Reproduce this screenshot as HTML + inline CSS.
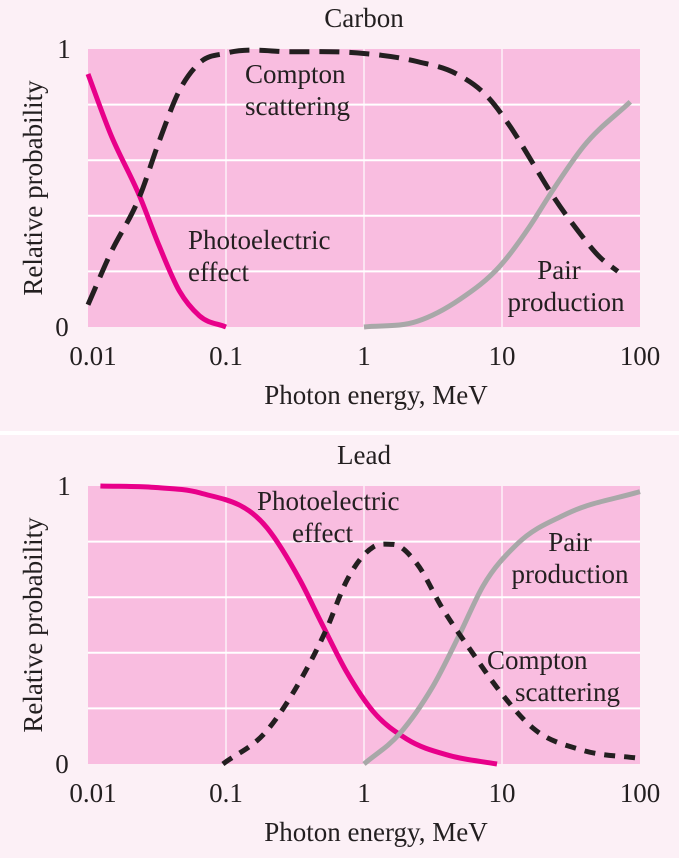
<!DOCTYPE html>
<html><head><meta charset="utf-8"><style>
body{margin:0;background:#fcf0f6;}
svg{display:block;font-family:"Liberation Serif",serif;}
text{fill:#231f20;font-size:27px;}
</style></head><body>
<svg id="chart" width="679" height="858">
<rect x="0" y="0" width="679" height="858" fill="#fcf0f6"/>
<rect x="0" y="431" width="679" height="4" fill="#ffffff"/>
</svg>
<script>
// Carbon data (energy MeV, relative probability)
const carbonPhotoE=[0.01,0.0144,0.0237,0.0329,0.0459,0.0643,0.1];
const carbonPhotoV=[0.91,0.70,0.47,0.29,0.13,0.04,0];
const carbonComptonE=[0.01,0.0144,0.0237,0.0329,0.0459,0.0643,0.1,0.3,0.89,2.42,4.7,7.8,11.5,16.7,23.5,35,51.5,69];
const carbonComptonV=[0.08,0.26,0.47,0.67,0.85,0.95,0.985,0.99,0.986,0.955,0.91,0.83,0.72,0.59,0.47,0.35,0.25,0.2];
const carbonPairE=[1,2.42,4.97,9.7,15.8,22.5,39,85];
const carbonPairV=[0,0.02,0.1,0.22,0.36,0.48,0.65,0.81];
// Lead data
const leadPhotoE=[0.0123,0.03,0.0647,0.198,0.345,0.5,0.75,1.16,2.04,4.2,9.2];
const leadPhotoV=[1,0.995,0.975,0.85,0.66,0.50,0.33,0.19,0.09,0.03,0];
const leadComptonE=[0.095,0.198,0.345,0.54,0.75,1.16,1.62,2.42,3.7,6.1,9.7,16.7,38,100];
const leadComptonV=[0,0.12,0.30,0.49,0.66,0.78,0.79,0.72,0.56,0.40,0.26,0.13,0.05,0.02];
const leadPairE=[1,1.82,3.16,4.97,7.28,12.8,29.5,100];
const leadPairV=[0,0.11,0.28,0.47,0.64,0.79,0.9,0.98];
const xTickLabels=["0.01","0.1","1","10","100"];
const xTickValues=[0.01,0.1,1,10,100];
const yTickValues=[0,0.2,0.4,0.6,0.8,1];

const NS="http://www.w3.org/2000/svg";
const svg=document.getElementById('chart');
const X0=88,X1=640,W=X1-X0;
function xScale(e){return X0+(Math.log10(e)+2)/4*W;}
function mk(tag,attrs,parent){const el=document.createElementNS(NS,tag);for(const k in attrs)el.setAttribute(k,attrs[k]);(parent||svg).appendChild(el);return el;}
function txt(s,x,y,anchor,parent){const t=mk('text',{x:x,y:y,'text-anchor':anchor||'start'},parent);t.textContent=s;return t;}
function pathD(pts){
  const n=pts.length,xs=pts.map(p=>p[0]),ys=pts.map(p=>p[1]);
  const d=[],m=new Array(n);
  for(let i=0;i<n-1;i++)d.push((ys[i+1]-ys[i])/(xs[i+1]-xs[i]));
  m[0]=d[0];m[n-1]=d[n-2];
  for(let i=1;i<n-1;i++){const h0=xs[i]-xs[i-1],h1=xs[i+1]-xs[i];m[i]=(d[i-1]*h1+d[i]*h0)/(h0+h1);if(d[i-1]*d[i]<=0)m[i]=0;}
  let s='M'+xs[0].toFixed(1)+','+ys[0].toFixed(1);
  for(let i=0;i<n-1;i++){const h=(xs[i+1]-xs[i])/3;
    s+=' C'+(xs[i]+h).toFixed(1)+','+(ys[i]+m[i]*h).toFixed(1)+' '+(xs[i+1]-h).toFixed(1)+','+(ys[i+1]-m[i+1]*h).toFixed(1)+' '+xs[i+1].toFixed(1)+','+ys[i+1].toFixed(1);}
  return s;}

function panel(name,top,bottom,title,series,labels){
  const g=mk('g',{});
  
  
  const H=bottom-top;
  const yScale=v=>bottom-v*H;
  const bg=mk('rect',{x:X0,y:top,width:W,height:H,fill:'#f9bde0'},g);
  
  
  yTickValues.forEach(v=>{if(v>0&&v<1){const l=mk('line',{x1:X0,x2:X1,y1:yScale(v),y2:yScale(v),stroke:'#fff','stroke-width':2},g);
    
    }});
  xTickValues.forEach(e=>{if(e>0.01&&e<100){const l=mk('line',{x1:xScale(e),x2:xScale(e),y1:top,y2:bottom,stroke:'#fff','stroke-width':1.2},g);
    
    }});
  series.forEach(s=>{const pts=s.e.map((e,i)=>[xScale(e),yScale(s.v[i])]);
    const p=mk('path',{d:pathD(pts),fill:'none',stroke:s.color,'stroke-width':5,'stroke-dasharray':s.dash||'none'},g);
    
    });
  const t=txt(title,364,top-22,'middle',g);
  
  
  const t1=txt('1',64,top+9,'middle',g);
  
  
  const t0=txt('0',62,bottom+9,'middle',g);
  
  
  xTickValues.forEach((e,i)=>{const tl=txt(xTickLabels[i],xScale(e)+(i==0?5:0),bottom+38,'middle',g);
    
    });
  const xt=txt('Photon energy, MeV',376,bottom+77,'middle',g);
  
  
  const cy=(top+bottom)/2;
  const yt=txt('Relative probability',0,0,'middle',g);
  yt.setAttribute('transform','translate(42,'+cy+') rotate(-90)');
  
  
  labels.forEach(l=>{const a=txt(l[0],l[1],l[2],l[3]||'start',g);
    
    });
}
panel('carbon',49,327,'Carbon',[
 {name:'carbon-photoelectric-line',e:carbonPhotoE,v:carbonPhotoV,color:'#e8008a'},
 {name:'carbon-pair-production-line',e:carbonPairE,v:carbonPairV,color:'#a8a8a8'},
 {name:'carbon-compton-line',e:carbonComptonE,v:carbonComptonV,color:'#231f20',dash:'20 10'}
],[
 ['Compton',245,83,'start','compton-label'],['scattering',245,115,'start','compton-label-line2'],
 ['Photoelectric',188,249,'start','photoelectric-label'],['effect',188,281,'start','photoelectric-label-line2'],
 ['Pair',559,279,'middle','pair-label'],['production',566,311,'middle','pair-label-line2']
]);
panel('lead',486,764,'Lead',[
 {name:'lead-photoelectric-line',e:leadPhotoE,v:leadPhotoV,color:'#e8008a'},
 {name:'lead-pair-production-line',e:leadPairE,v:leadPairV,color:'#a8a8a8'},
 {name:'lead-compton-line',e:leadComptonE,v:leadComptonV,color:'#231f20',dash:'11 9'}
],[
 ['Photoelectric',257,510,'start','photoelectric-label'],['effect',292,542,'start','photoelectric-label-line2'],
 ['Pair',570,551,'middle','pair-label'],['production',570,583,'middle','pair-label-line2'],
 ['Compton',487,669,'start','compton-label'],['scattering',515,701,'start','compton-label-line2']
]);
</script>
</body></html>
